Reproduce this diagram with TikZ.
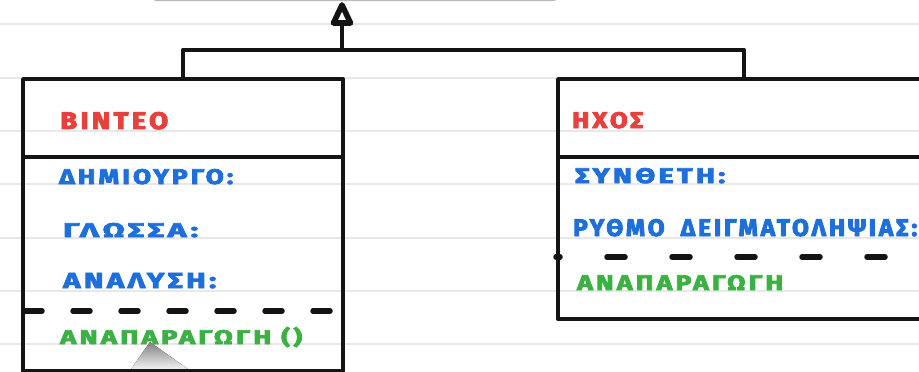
\documentclass[tikz,border=0pt]{standalone}
\usepackage{fontspec}
\newfontfamily\handfont{Fira Sans}[LetterSpace=12]
\definecolor{ink}{HTML}{141414}
\definecolor{ruleline}{HTML}{E8E8E8}
\definecolor{titlered}{HTML}{E8403C}
\definecolor{attrblue}{HTML}{1F6FDA}
\definecolor{opgreen}{HTML}{3BB143}
\definecolor{shade}{HTML}{DDDDDD}
% heavier strokes: fill and outline the glyphs
\newcommand{\thickglyphs}[1]{\special{pdf:literal 2 Tr 0.35 w}#1\special{pdf:literal 0 Tr}}
% label scaled to a given width and cap height (in pt)
\newcommand{\fitlabel}[3]{\resizebox{#1pt}{#2pt}{\thickglyphs{\handfont\bfseries #3}}}
\tikzset{
  ruled/.style={draw=ruleline, line width=2pt},
  umlbox/.style={draw=ink, line width=4.2pt, rectangle, inner sep=0pt, line join=round},
  divider/.style={draw=ink, line width=4.2pt},
  dashdiv/.style={draw=ink, line width=5.5pt, line cap=round},
  wire/.style={draw=ink, line width=4.4pt, line join=round},
  tiphead/.style={draw=ink, line width=5.6pt, line join=round, fill=white},
  lbl/.style={inner sep=0pt, anchor=base west},
}
\begin{document}
\begin{tikzpicture}[x=1pt, y=-1pt]
\useasboundingbox (0,0) rectangle (919,372);
\fill[white] (0,0) rectangle (919,372);

% ruled background lines
\foreach \yy in {24,77.5,131,184,237.5,291,344}
  \draw[ruled] (0,\yy) -- (919,\yy);

% parent class (only its lower edge is in view)
\node[draw=gray!55, line width=1.6pt, rounded corners=2pt, minimum width=402pt,
      minimum height=60pt, inner sep=0pt, anchor=south west] (parent) at (153,1) {};

% shaded pointer behind the lower box
\fill[shade] (150,342) -- (129,372) -- (192,372) -- cycle;

% subclass boxes
\node[umlbox, minimum width=320pt, minimum height=292pt, anchor=north west] (video) at (21,77) {};
\node[umlbox, minimum width=372pt, minimum height=240pt, anchor=north west] (sound) at (556,77) {};

% compartment separators
\draw[divider] (video.west |- 0,157) -- (video.east |- 0,157);
\draw[divider] (sound.west |- 0,157) -- (sound.east |- 0,157);
\draw[dashdiv, dash pattern=on 17pt off 31pt, dash phase=-4pt] (video.west |- 0,311) -- (video.east |- 0,311);
\draw[dashdiv, dash pattern=on 18pt off 47pt, dash phase=14pt] (sound.west |- 0,257) -- (sound.east |- 0,257);

% inheritance connector with hollow triangle head
\coordinate (junction) at (342,50);
\coordinate (tip) at ([yshift=-4pt]parent.south -| junction);
\coordinate (tipbase) at ([yshift=-18pt]tip);
\draw[wire] (video.north) |- (junction) -| (sound.north);
\draw[wire] (junction) -- (tipbase);
\draw[tiphead] (tip) -- ([xshift=-8.5pt]tipbase) -- ([xshift=8.5pt]tipbase) -- cycle;

% class names
\node[lbl, text=titlered] (vname) at (60,129) {\fitlabel{108}{17}{ΒΙΝΤΕΟ}};
\node[lbl, text=titlered] (sname) at (572,128) {\fitlabel{71}{16}{ΗΧΟΣ}};

% attributes
\node[lbl, text=attrblue] (vattra) at (59,184) {\fitlabel{174}{15}{ΔΗΜΙΟΥΡΓΟ:}};
\node[lbl, text=attrblue] (vattrb) at (63,237) {\fitlabel{135}{14}{ΓΛΩΣΣΑ:}};
\node[lbl, text=attrblue] (vattrc) at (63,288) {\fitlabel{153}{15}{ΑΝΑΛΥΣΗ:}};
\node[lbl, text=attrblue] (sattra) at (575,183) {\fitlabel{150}{15}{ΣΥΝΘΕΤΗ:}};
\node[lbl, text=attrblue] (sattrb) at (573,236) {\fitlabel{344}{17}{ΡΥΘΜΟ\hspace{0.3em} ΔΕΙΓΜΑΤΟΛΗΨΙΑΣ:}};

% operations
\node[lbl, text=opgreen] (vop) at (60,344) {\fitlabel{242}{17}{ΑΝΑΠΑΡΑΓΩΓΗ ()}};
\node[lbl, text=opgreen] (sop) at (577,290) {\fitlabel{206}{15}{ΑΝΑΠΑΡΑΓΩΓΗ}};
\end{tikzpicture}
\end{document}
